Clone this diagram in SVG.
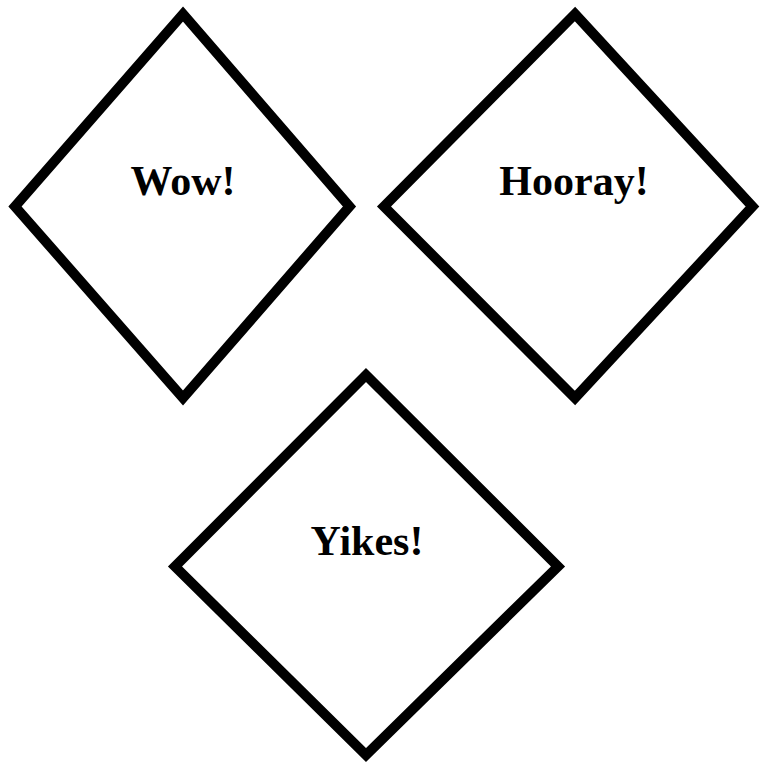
<svg xmlns="http://www.w3.org/2000/svg" width="761" height="763" viewBox="0 0 761 763">
<style>
.d{fill:#fff;stroke:#000;stroke-width:10;stroke-miterlimit:10}
.t{font-family:"Liberation Serif","Times New Roman",serif;font-weight:bold;font-size:42px;fill:#000;text-anchor:middle}
</style>
<rect width="761" height="763" fill="#fff"/>
<g id="connectors"></g>
<g id="wow">
<polygon class="d" points="183,14 349.5,206.5 183,398 15,206.5"/>
<text class="t" x="183" y="195">Wow!</text>
</g>
<g id="hooray">
<polygon class="d" points="575,14 752.5,206.5 575,398 384,206.5"/>
<text class="t" x="574" y="195">Hooray!</text>
</g>
<g id="yikes">
<polygon class="d" points="366,375 558,566.5 366,755 175,566.5"/>
<text class="t" x="367" y="555">Yikes!</text>
</g>
</svg>
